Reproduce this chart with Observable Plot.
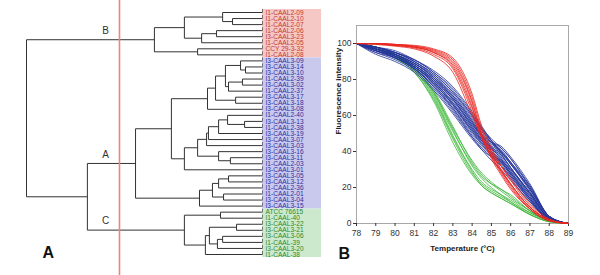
<!DOCTYPE html>
<html>
<head>
<meta charset="utf-8">
<script src="https://cdn.jsdelivr.net/npm/d3@7"></script>
<script src="https://cdn.jsdelivr.net/npm/@observablehq/plot@0.6"></script>
<style>
  html, body { margin: 0; padding: 0; background: #fff; }
  #wrap { display: flex; width: 600px; height: 275px; }
  #wrap svg { display: block; }
</style>
</head>
<body>
<div id="wrap"><div id="left"></div><div id="right"></div></div>
<script>
// ---------- Panel A: dendrogram data ----------
const leafLabels = [
  "I1-CAAL2-09","I1-CAAL2-10","I1-CAAL2-07","I1-CAAL2-06","I3-CAAL3-23","I1-CAAL2-05","CCY 29-3-32","I1-CAAL2-08",
  "I3-CAAL3-09","I3-CAAL3-14","I3-CAAL3-10","I1-CAAL2-39","I3-CAAL3-02","I1-CAAL2-37","I3-CAAL3-17","I3-CAAL3-18",
  "I3-CAAL3-08","I1-CAAL2-40","I3-CAAL3-13","I1-CAAL2-38","I3-CAAL3-19","I3-CAAL3-07","I3-CAAL3-03","I3-CAAL3-16",
  "I3-CAAL3-11","I1-CAAL2-03","I3-CAAL3-01","I3-CAAL3-05","I3-CAAL3-12","I1-CAAL2-36","I1-CAAL2-01","I3-CAAL3-04",
  "I3-CAAL3-15","ATCC 76615","I1-CAAL-40","I3-CAAL3-22","I3-CAAL3-21","I3-CAAL3-06","I1-CAAL-39","I3-CAAL3-20",
  "I1-CAAL-38"
];
const groupNames = ["B", "A", "C"];
const groupStart = [0, 8, 33];
const groupEnd = [7, 32, 40];
const groupFill = ["#f6c8c5", "#c9c9ee", "#cde9cd"];
const groupText = ["#c23a32", "#2f2f9c", "#2b8a2b"];
const cutHeight = 60.6;

// tree: [height, child, child]; a number is a leaf index
const tree =
[100,
  [45.8,
    [33.1,
      [16.9, 0, [12.7, 1, 2]],
      [25.8, [19.5, 3, 4], 5]],
    [27.5, 6, 7]],
  [74.2,
    [53.8,
      [38.6,
        [23.3,
          [19.9,
            [15.7,
              [9.3, 8, [7.2, 9, 10]],
              [14.4, [8.5, 11, 12], 13]],
            [11.4, 14, 15]],
          16],
        [33.1,
          [27.5,
            [23.7,
              [22.9,
                [18.6,
                  [14.8, 17, [7.6, 18, 19]],
                  20],
                21],
              22],
            [18.6, 23, [13.6, 24, 25]]],
          26]],
      [26.7,
        [21.2,
          [18.6, [14.4, 27, 28], 29],
          [16.5, 30, 31]],
        32]],
    [33.1,
      [17.8, 33, 34],
      [24.2,
        [22.5,
          [11.0, 35, 36],
          [19.1, [16.9, 37, 38], 39]],
        40]]]];

// ---------- Panel B: melting curve data ----------
const temps = [78, 79, 80, 81, 82, 83, 84, 84.5, 85, 85.5, 86, 87, 88, 89];
const xTicks = [78, 79, 80, 81, 82, 83, 84, 85, 86, 87, 88, 89];
const yTicks = [0, 20, 40, 60, 80, 100];
const redCurves = [
  [100,100,99.5,98.5,96,90,68,50,39,30,22,9,2,0],
  [100,100,99,98,95,88,65,48,38,29,21,8,1.5,0],
  [100,100,99.5,99,97,92,72,54,42,32,24,10,2,0],
  [100,99.5,99,97.5,94,86,62,47,37,29,22,9,2,0],
  [100,100,99,98,95.5,89,67,49,37,28,20,8,1.5,0],
  [100,100,99.5,98.5,96.5,91,70,52,40,30,22,9,2,0],
  [100,99.5,98.5,97,93,84,60,48,40,32,25,11,2.5,0],
  [100,100,99,98,95,87,64,49,36,27,19,8,1.5,0]
];
const blueCurves = [
  [100,98,95,90,83,73,59,52,46,40,33,19,4,0],
  [100,97,94,89,81,70,56,49,43,37,30,17,3,0],
  [100,96,92,86,77,65,51,45,41,38,31,17,3,0],
  [100,97,93,87,79,68,54,47,42,36,29,15,2.5,0],
  [100,98,95,91,84,75,61,53,46,40,33,20,4,0],
  [100,95,91,85,75,62,48,42,37,32,26,13,2,0],
  [100,97,94,88,80,69,55,48,44,41,34,19,3.5,0],
  [100,96,93,87,78,66,52,45,39,33,26,13,2,0],
  [100,98,94,89,82,72,58,51,45,40,34,21,4,0],
  [100,97,93,88,79,67,53,46,40,35,28,15,3,0],
  [100,94,90,84,74,61,47,41,37,34,28,14,2,0],
  [100,97,94,89,81,71,57,50,45,42,36,20,4,0],
  [100,96,92,86,76,64,50,44,39,34,27,14,2.5,0],
  [100,98,96,91,85,76,62,54,46,39,31,17,3,0],
  [100,97,93,87,78,66,51,44,38,32,25,12,2,0],
  [100,96,93,88,80,69,55,49,45,43,37,22,4,0],
  [100,98,95,90,82,71,57,49,42,36,29,16,3,0],
  [100,95,92,86,77,64,49,43,38,35,30,16,3,0],
  [100,97,94,89,81,70,56,48,41,35,28,14,2.5,0],
  [100,98,95,90,83,73,60,53,47,42,36,21,4,0],
  [100,96,92,86,76,63,48,41,35,30,24,12,2,0],
  [100,97,94,88,80,69,54,47,43,40,34,19,3.5,0],
  [100,98,95,91,84,74,60,52,45,38,31,17,3,0],
  [100,96,92,87,78,66,52,46,42,39,33,18,3,0],
  [100,97,93,87,79,67,53,46,40,34,27,13,2,0]
];
const greenCurves = [
  [100,98,94,86,73,52,32,25,20,16,12,6,1.5,0],
  [100,97,93,85,71,49,30,23,19,16,13,6,1.5,0],
  [100,98,94,87,74,54,34,27,22,18,14,7,1.5,0],
  [100,97,92,84,69,47,28,22,18,15,12,5,1,0],
  [100,98,93,86,72,51,33,26,22,19,15,7,1.5,0],
  [100,97,93,85,70,48,29,21,17,14,11,5,1,0],
  [100,98,94,86,73,53,35,28,23,19,16,7,1.5,0],
  [100,97,92,84,68,45,27,21,17,14,11,5,1,0]
];

const FONT = "'Liberation Sans', Arial, Helvetica, sans-serif";

// ---------- dendrogram layout ----------
const segs = [];
function layout(node) {
  if (typeof node === "number") return {y: node, h: 0};
  const [h, a, b] = node;
  const A = layout(a), B = layout(b);
  segs.push({x1: h, y1: A.y, x2: h, y2: B.y});
  segs.push({x1: h, y1: A.y, x2: A.h, y2: A.y});
  segs.push({x1: h, y1: B.y, x2: B.h, y2: B.y});
  return {y: (A.y + B.y) / 2, h};
}
layout(tree);
function nodeY(node) {
  if (typeof node === "number") return node;
  return (nodeY(node[1]) + nodeY(node[2])) / 2;
}
const clusterNodes = [tree[1], tree[2][1], tree[2][2]];
const clusterLabels = groupNames.map((n, i) => ({name: n, y: nodeY(clusterNodes[i])}));
const boxes = groupNames.map((n, i) => ({g: i, y1: groupStart[i] - 0.5, y2: groupEnd[i] + 0.5}));
const leaves = leafLabels.map((label, i) => ({
  label, i, g: groupStart.findIndex((s, k) => i >= s && i <= groupEnd[k])
}));

const left = Plot.plot({
  width: 330, height: 275,
  marginLeft: 0, marginRight: 0, marginTop: 0, marginBottom: 0,
  style: {fontFamily: FONT, background: "#fff", overflow: "visible"},
  x: {domain: [100, -25], range: [26, 321], axis: null},
  y: {domain: [0, 40], range: [12, 254], axis: null},
  marks: [
    Plot.rect(boxes, {x1: 0, x2: -25, y1: "y1", y2: "y2", fill: d => groupFill[d.g]}),
    Plot.ruleX([0], {y1: -0.5, y2: 40.5, stroke: "#555", strokeWidth: 0.8, strokeDasharray: "3,3.05"}),
    Plot.link(segs, {x1: "x1", y1: "y1", x2: "x2", y2: "y2", stroke: "#333", strokeWidth: 1}),
    Plot.ruleX([cutHeight], {stroke: "#f08675", strokeWidth: 1.6}),
    Plot.text(leaves, {x: 0, y: "i", text: "label", dx: 3, textAnchor: "start", fontSize: 6.6,
      fill: d => groupText[d.g]}),
    Plot.text(clusterLabels, {x: 66.5, y: "y", text: "name", dy: -9, fontSize: 10, fill: "#333"}),
    Plot.text(["A"], {frameAnchor: "bottom-left", dx: 42, dy: -18, fontSize: 16, fontWeight: "bold", fill: "#111"})
  ]
});
document.getElementById("left").appendChild(left);

// ---------- melting curves ----------
function toRows(curves, g) {
  return curves.flatMap((c, k) => c.map((v, j) => ({t: temps[j], v, id: g + k})));
}
const right = Plot.plot({
  width: 270, height: 275,
  marginLeft: 26, marginRight: 32, marginTop: 25, marginBottom: 52,
  style: {fontFamily: FONT, background: "#fff", overflow: "visible"},
  x: {domain: [78, 89]},
  y: {domain: [0, 110]},
  marks: [
    Plot.frame({stroke: "#a8a8a8"}),
    Plot.axisX({ticks: xTicks, tickFormat: d => String(d), tickSize: 3, tickPadding: 3, fontSize: 8.5,
      color: "#333", label: null}),
    Plot.axisY({ticks: yTicks, tickFormat: d => String(d), tickSize: 3, tickPadding: 2, fontSize: 8.5,
      color: "#333", label: null}),
    Plot.line(toRows(greenCurves, "g"), {x: "t", y: "v", z: "id", stroke: "#3db83a", strokeWidth: 0.8, curve: "monotone-x"}),
    Plot.line(toRows(blueCurves, "b"), {x: "t", y: "v", z: "id", stroke: "#26369a", strokeWidth: 0.8, curve: "monotone-x"}),
    Plot.line(toRows(redCurves, "r"), {x: "t", y: "v", z: "id", stroke: "#e8261f", strokeWidth: 0.8, curve: "monotone-x"}),
    Plot.text(["Temperature (°C)"], {frameAnchor: "bottom", dy: 27, fontSize: 8, fontWeight: "bold", fill: "#222"}),
    Plot.text(["Fluorescence intensity"], {frameAnchor: "left", rotate: -90, dx: -18, dy: 10, fontSize: 8,
      fontWeight: "bold", fill: "#222"}),
    Plot.text(["B"], {frameAnchor: "bottom-left", dx: -18, dy: 35, fontSize: 16, fontWeight: "bold", fill: "#111"})
  ]
});
document.getElementById("right").appendChild(right);
</script>
</body>
</html>
